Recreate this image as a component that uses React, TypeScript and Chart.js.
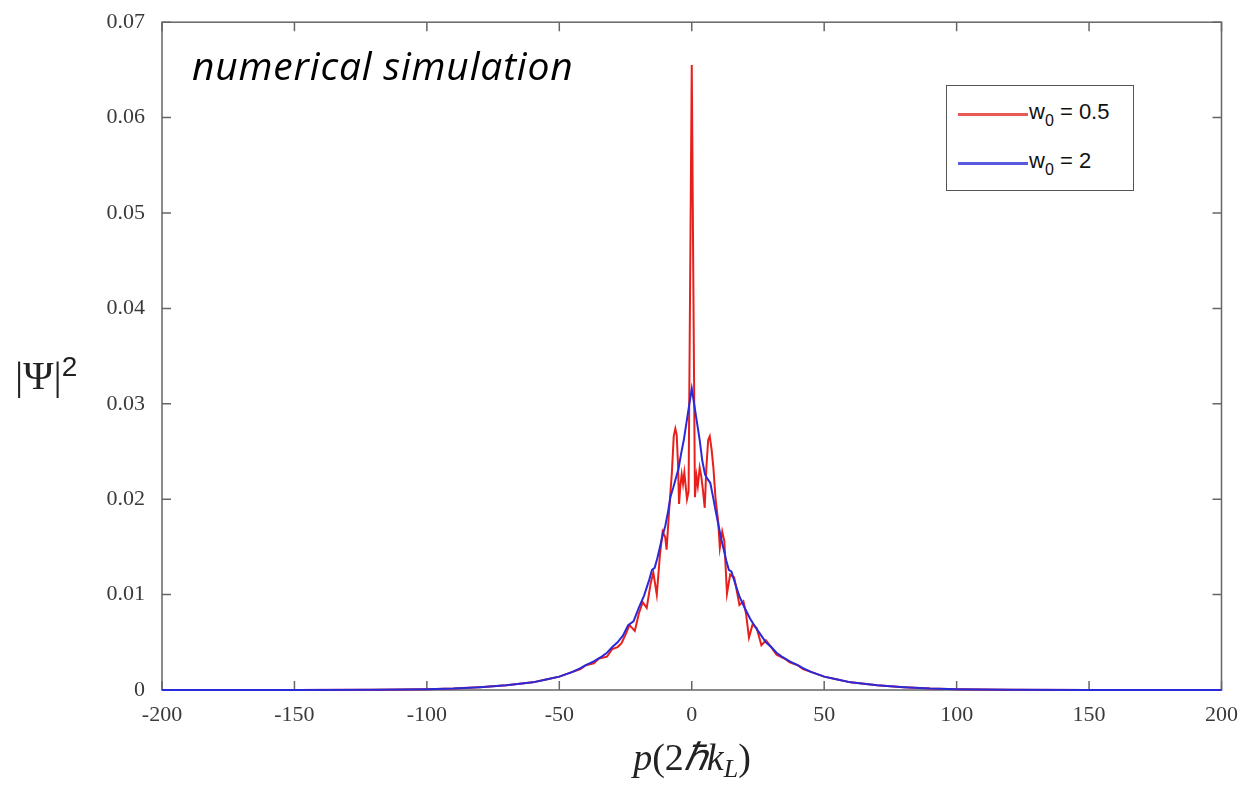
import React, { useEffect, useRef } from "react";
import { Chart, registerables } from "chart.js";

Chart.register(...registerables);

// w0 = 0.5 series (momentum p, probability |Psi|^2)
const redP = [-200, -150, -120, -100, -90, -80, -70, -60, -55, -50, -45, -42, -40, -37, -35, -32, -30, -28, -26.5, -25, -23.5, -21.5, -20, -18.5, -17, -15.5, -14.5, -13.2, -12, -11, -10, -9.5, -8.5, -7.5, -6.8, -6.2, -5.7, -5.2, -4.8, -4.3, -3.8, -3.3, -2.8, -2.3, -1.8, -1.2, 0, 1.2, 1.8, 2.3, 3.0, 3.6, 4.2, 4.9, 5.5, 6.2, 6.8, 7.5, 8.2, 9, 10, 10.6, 11.5, 12.3, 13.3, 14.5, 16, 17, 18, 19.5, 20.5, 21.6, 23, 24.5, 26.3, 28, 30, 32, 35, 37, 40, 42, 45, 50, 55, 60, 70, 80, 90, 100, 120, 150, 200];
const redV = [0, 0.00001, 0.00002, 0.00007, 0.00015, 0.0003, 0.0005, 0.0008, 0.0011, 0.0014, 0.0019, 0.0022, 0.0026, 0.0028, 0.0033, 0.0035, 0.0043, 0.0045, 0.0049, 0.0058, 0.0068, 0.0062, 0.008, 0.0092, 0.0086, 0.0112, 0.0123, 0.01, 0.0142, 0.0166, 0.016, 0.0147, 0.019, 0.0228, 0.0266, 0.0274, 0.0268, 0.0238, 0.0195, 0.0214, 0.0226, 0.0216, 0.0228, 0.0214, 0.02, 0.0208, 0.0655, 0.0202, 0.0224, 0.0214, 0.0233, 0.0224, 0.021, 0.0191, 0.0232, 0.0262, 0.0266, 0.0252, 0.0232, 0.02, 0.0176, 0.0149, 0.0166, 0.0156, 0.0101, 0.0121, 0.0118, 0.0104, 0.0089, 0.0093, 0.008, 0.0055, 0.0069, 0.0065, 0.0047, 0.0052, 0.0045, 0.0037, 0.0033, 0.0029, 0.0026, 0.0022, 0.0019, 0.0014, 0.0011, 0.0008, 0.0005, 0.0003, 0.00015, 0.00007, 0.00002, 0.00001, 0];

// w0 = 2 series
const blueP = [-200, -150, -120, -100, -90, -80, -70, -60, -55, -50, -45, -42, -40, -37, -34, -32, -30, -28, -26, -24, -22, -20, -18, -16, -15, -14, -13, -12, -11, -10, -9, -8, -7, -6, -5, -4, -3, -2, -1, 0, 1, 2, 3, 4, 5, 6, 7, 8, 9, 10, 11, 12, 13, 14, 15, 16, 18, 20, 22, 24, 26, 28, 30, 32, 34, 37, 40, 42, 45, 50, 55, 60, 70, 80, 90, 100, 120, 150, 200];
const blueV = [0, 0.000005, 0.00002, 0.00007, 0.00015, 0.0003, 0.0005, 0.0008, 0.0011, 0.0014, 0.0019, 0.0023, 0.0026, 0.003, 0.0035, 0.0039, 0.0045, 0.005, 0.0057, 0.0068, 0.0072, 0.0086, 0.0099, 0.0116, 0.0126, 0.0128, 0.0138, 0.015, 0.0162, 0.0172, 0.0186, 0.0203, 0.0212, 0.0222, 0.0232, 0.0248, 0.0262, 0.028, 0.0298, 0.0316, 0.0298, 0.028, 0.0262, 0.024, 0.0226, 0.0221, 0.0217, 0.0203, 0.0188, 0.0174, 0.016, 0.0148, 0.0136, 0.0126, 0.0124, 0.0115, 0.0098, 0.0086, 0.0075, 0.0066, 0.0058, 0.005, 0.0045, 0.0039, 0.0035, 0.003, 0.0026, 0.0023, 0.0019, 0.0014, 0.0011, 0.0008, 0.0005, 0.0003, 0.00015, 0.00007, 0.00002, 0.000005, 0];

const seriesLabels = ["0.5", "2"];
const seriesColors = ["#e8201c", "#2a2ad8"];
const legendColors = ["#e85a58", "#5a5ae0"];
const xTicks = [-200, -150, -100, -50, 0, 50, 100, 150, 200];
const yTicks = [0, 0.01, 0.02, 0.03, 0.04, 0.05, 0.06, 0.07];

const AXIS_COLOR = "#666666";
const TICK_FONT = "'Liberation Serif', 'DejaVu Serif', serif";

const framePlugin = {
  id: "matlabFrame",
  beforeDatasetsDraw(chart: any) {
    const { ctx, chartArea } = chart;
    const { left, right, top, bottom } = chartArea;
    const xs = chart.scales.x;
    const ys = chart.scales.y;
    ctx.save();
    ctx.strokeStyle = AXIS_COLOR;
    ctx.lineWidth = 1.5;
    ctx.strokeRect(left, top, right - left, bottom - top);
    const tl = 9;
    ctx.beginPath();
    xTicks.forEach((v) => {
      const px = xs.getPixelForValue(v);
      ctx.moveTo(px, bottom);
      ctx.lineTo(px, bottom - tl);
      ctx.moveTo(px, top);
      ctx.lineTo(px, top + tl);
    });
    yTicks.forEach((v) => {
      const py = ys.getPixelForValue(v);
      ctx.moveTo(left, py);
      ctx.lineTo(left + tl, py);
      ctx.moveTo(right, py);
      ctx.lineTo(right - tl, py);
    });
    ctx.stroke();
    ctx.restore();
  },
};

export default function App() {
  const canvasRef = useRef<HTMLCanvasElement | null>(null);

  useEffect(() => {
    const canvas = canvasRef.current;
    if (!canvas) return;
    const makePts = (ps: number[], vs: number[]) => ps.map((p, i) => ({ x: p, y: vs[i] }));
    const chart = new Chart(canvas, {
      type: "line",
      data: {
        datasets: [
          {
            label: "w0 = " + seriesLabels[0],
            data: makePts(redP, redV),
            borderColor: seriesColors[0],
            borderWidth: 2,
            pointRadius: 0,
            tension: 0,
            order: 2,
            clip: false as any,
          },
          {
            label: "w0 = " + seriesLabels[1],
            data: makePts(blueP, blueV),
            borderColor: seriesColors[1],
            borderWidth: 2,
            pointRadius: 0,
            tension: 0,
            order: 1,
            clip: false as any,
          },
        ],
      },
      options: {
        animation: false,
        responsive: false,
        events: [],
        layout: { padding: { top: 20, right: 20, left: 0, bottom: 0 } },
        plugins: { legend: { display: false }, tooltip: { enabled: false } },
        scales: {
          x: {
            type: "linear",
            min: -200,
            max: 200,
            afterBuildTicks: (s: any) => {
              s.ticks = xTicks.map((v) => ({ value: v }));
            },
            afterFit: (s: any) => {
              s.height = 105;
            },
            grid: { display: false },
            border: { display: false },
            ticks: {
              padding: 4,
              color: "#3a3a3a",
              font: { family: TICK_FONT, size: 22 },
              maxRotation: 0,
              callback: (v: any) => String(v),
            },
          },
          y: {
            type: "linear",
            min: 0,
            max: 0.07,
            afterBuildTicks: (s: any) => {
              s.ticks = yTicks.map((v) => ({ value: v }));
            },
            afterFit: (s: any) => {
              s.width = 162;
            },
            grid: { display: false },
            border: { display: false },
            ticks: {
              padding: 9,
              color: "#3a3a3a",
              font: { family: TICK_FONT, size: 22 },
              callback: (v: any) => (Number(v) === 0 ? "0" : Number(v).toFixed(2)),
            },
          },
        },
      },
      plugins: [framePlugin],
    });
    return () => chart.destroy();
  }, []);

  return (
    <div style={{ position: "fixed", left: 0, top: 0, width: 1242, height: 795, background: "#fff" }}>
      <canvas ref={canvasRef} width={1242} height={795} style={{ position: "absolute", left: 0, top: 0 }} />
      <div
        style={{
          position: "absolute",
          left: 192,
          top: 45,
          fontFamily: "'Open Sans', sans-serif",
          fontStyle: "italic",
          fontSize: 39,
          letterSpacing: 0.8,
          color: "#000",
          whiteSpace: "nowrap",
          lineHeight: 1,
        }}
      >
        numerical simulation
      </div>
      <div
        style={{
          position: "absolute",
          left: 946,
          top: 85,
          width: 188,
          height: 106,
          border: "1.5px solid #555",
          background: "#fff",
          boxSizing: "border-box",
        }}
      >
        {seriesLabels.map((lab, i) => (
          <div
            key={lab}
            style={{
              position: "absolute",
              left: 11,
              top: i === 0 ? 13 : 62,
              display: "flex",
              alignItems: "center",
              fontFamily: "'Liberation Sans', Arial, sans-serif",
              fontSize: 22,
              color: "#111",
              whiteSpace: "nowrap",
            }}
          >
            <span style={{ display: "inline-block", width: 70, height: 2.5, background: legendColors[i], marginRight: 1 }} />
            <span>
              w<sub style={{ fontSize: 16, verticalAlign: -7 }}>0</sub> = {lab}
            </span>
          </div>
        ))}
      </div>
      <div
        style={{
          position: "absolute",
          left: 15,
          top: 353,
          fontFamily: "'Liberation Serif', serif",
          fontSize: 41,
          color: "#222",
          whiteSpace: "nowrap",
          lineHeight: 1,
        }}
      >
        |Ψ|<sup style={{ fontFamily: "'Liberation Sans', sans-serif", fontSize: 28, verticalAlign: 13 }}>2</sup>
      </div>
      <div
        style={{
          position: "absolute",
          left: 0,
          width: 1384,
          top: 738,
          textAlign: "center",
          fontFamily: "'Liberation Serif', serif",
          fontSize: 38,
          color: "#222",
          whiteSpace: "nowrap",
          lineHeight: 1,
        }}
      >
        <i>p</i>(2<i>ℏk</i>
        <sub style={{ fontSize: 26, fontStyle: "italic", verticalAlign: -7 }}>L</sub>)
      </div>
    </div>
  );
}
